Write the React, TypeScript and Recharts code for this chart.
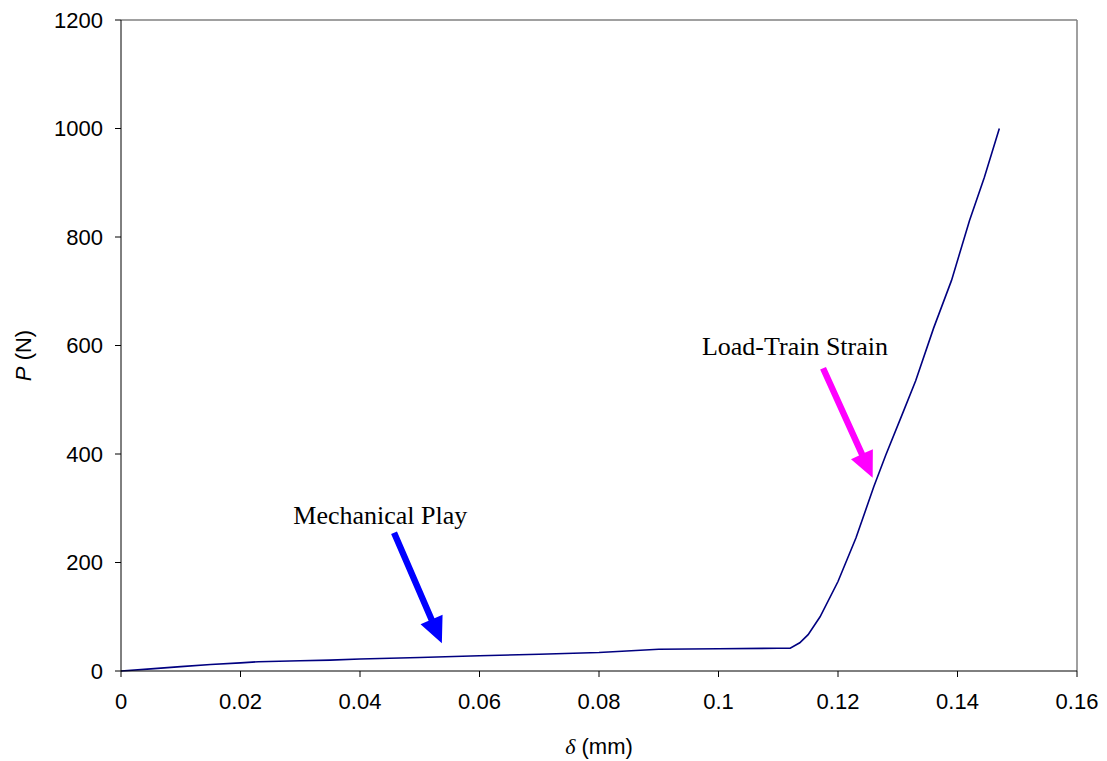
import {
  LineChart,
  Line,
  XAxis,
  YAxis,
  ReferenceLine,
  ReferenceDot,
} from "recharts";

// δ (mm) vs P (N)
const deltaMm = [
  0, 0.005, 0.01, 0.015, 0.02, 0.023, 0.03, 0.035, 0.04, 0.05, 0.06, 0.07,
  0.08, 0.09, 0.1, 0.11, 0.112, 0.1136, 0.115, 0.117, 0.12, 0.123, 0.126,
  0.128, 0.131, 0.133, 0.136, 0.139, 0.142, 0.1445, 0.147,
];
const loadN = [
  0, 4, 8, 12, 15, 17, 19, 20, 22, 25, 28, 31, 34, 40, 41, 42, 42, 52, 67,
  100, 165, 245, 340, 398, 480, 535, 632, 720, 830, 910, 1000,
];

const xTicks = [0, 0.02, 0.04, 0.06, 0.08, 0.1, 0.12, 0.14, 0.16];
const yTicks = [0, 200, 400, 600, 800, 1000, 1200];

// annotations (data units)
const playArrow = [{ x: 0.0457, y: 255 }, { x: 0.0537, y: 51 }];
const strainArrow = [{ x: 0.1175, y: 558 }, { x: 0.1258, y: 356 }];
const playLabel = { x: 0.0434, y: 271, text: "Mechanical Play" };
const strainLabel = { x: 0.1128, y: 583, text: "Load-Train Strain" };

const data = deltaMm.map((d, i) => ({ delta: d, P: loadN[i] }));

const SANS = "'Liberation Sans', Arial, sans-serif";
const SERIF = "'Liberation Serif', 'Times New Roman', serif";

function Arrow(props: any) {
  const { x1, y1, x2, y2, color } = props;
  const dx = x2 - x1;
  const dy = y2 - y1;
  const len = Math.sqrt(dx * dx + dy * dy) || 1;
  const ux = dx / len;
  const uy = dy / len;
  const nx = -uy;
  const ny = ux;
  const headLen = 26;
  const headHalf = 12;
  const shaftHalf = 3.2;
  const bx = x2 - ux * headLen;
  const by = y2 - uy * headLen;
  const pts = [
    [x1 + nx * shaftHalf, y1 + ny * shaftHalf],
    [bx + nx * shaftHalf, by + ny * shaftHalf],
    [bx + nx * headHalf, by + ny * headHalf],
    [x2, y2],
    [bx - nx * headHalf, by - ny * headHalf],
    [bx - nx * shaftHalf, by - ny * shaftHalf],
    [x1 - nx * shaftHalf, y1 - ny * shaftHalf],
  ]
    .map((p) => p.join(","))
    .join(" ");
  return <polygon points={pts} fill={color} stroke="none" />;
}

function Note(props: any) {
  const { cx, cy, text } = props;
  return (
    <text x={cx} y={cy} textAnchor="middle" fontFamily={SERIF} fontSize={26} fill="#000">
      {text}
    </text>
  );
}

function YTitle({ viewBox }: any) {
  const cy = viewBox.y + viewBox.height / 2 + 10;
  return (
    <text
      transform={`translate(31, ${cy}) rotate(-90)`}
      textAnchor="middle"
      fontFamily={SANS}
      fontSize={22}
      fill="#000"
    >
      <tspan fontStyle="italic">P</tspan> (N)
    </text>
  );
}

function XTitle({ viewBox }: any) {
  const cx = viewBox.x + viewBox.width / 2;
  return (
    <text x={cx} y={754} textAnchor="middle" fontFamily={SANS} fontSize={22} fill="#000">
      <tspan fontStyle="italic" fontFamily={SERIF}>δ</tspan> (mm)
    </text>
  );
}

export default function App() {
  return (
    <div style={{ position: "absolute", left: 0, top: 0, background: "#fff" }}>
      <LineChart
        width={1107}
        height={761}
        data={data}
        margin={{ top: 20, right: 30, bottom: 0, left: 0 }}
      >
        <XAxis
          dataKey="delta"
          type="number"
          domain={[0, 0.16]}
          ticks={xTicks}
          tickFormatter={(v) => String(v)}
          tick={{ fontSize: 22, fill: "#000", fontFamily: SANS }}
          tickSize={6}
          tickMargin={16}
          stroke="#000"
          height={90}
          label={<XTitle />}
        />
        <YAxis
          type="number"
          domain={[0, 1200]}
          ticks={yTicks}
          tick={{ fontSize: 22, fill: "#000", fontFamily: SANS }}
          tickSize={6}
          tickMargin={12}
          stroke="#000"
          width={121}
          label={<YTitle />}
        />
        <ReferenceLine y={1200} stroke="#808080" strokeWidth={1.5} />
        <ReferenceLine x={0.16} stroke="#808080" strokeWidth={1.5} />
        <Line
          type="linear"
          dataKey="P"
          stroke="#000080"
          strokeWidth={1.6}
          dot={false}
          isAnimationActive={false}
        />
        <ReferenceLine
          segment={playArrow}
          ifOverflow="visible"
          shape={(p: any) => <Arrow {...p} color="#0000FF" />}
        />
        <ReferenceLine
          segment={strainArrow}
          ifOverflow="visible"
          shape={(p: any) => <Arrow {...p} color="#FF00FF" />}
        />
        <ReferenceDot
          x={playLabel.x}
          y={playLabel.y}
          r={0}
          ifOverflow="visible"
          shape={(p: any) => <Note {...p} text={playLabel.text} />}
        />
        <ReferenceDot
          x={strainLabel.x}
          y={strainLabel.y}
          r={0}
          ifOverflow="visible"
          shape={(p: any) => <Note {...p} text={strainLabel.text} />}
        />
      </LineChart>
    </div>
  );
}
